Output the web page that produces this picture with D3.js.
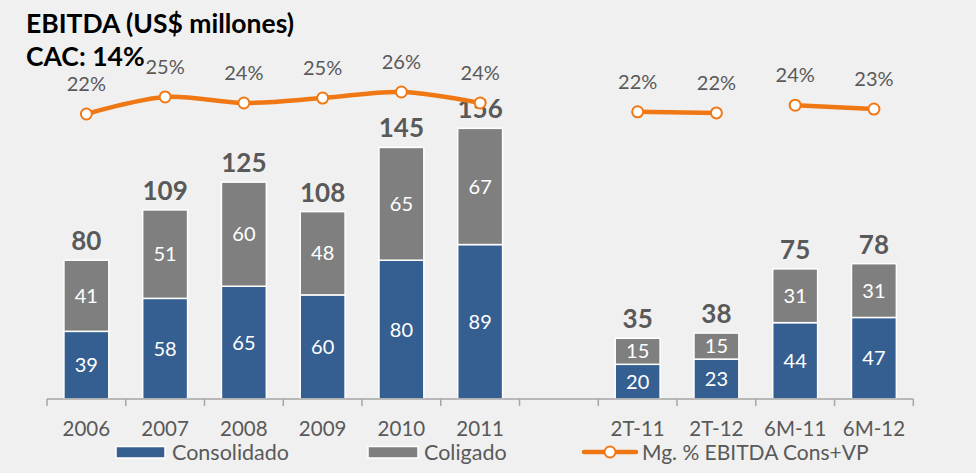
<!DOCTYPE html>
<html><head><meta charset="utf-8">
<script src="https://cdn.jsdelivr.net/npm/d3@7/dist/d3.min.js"></script>
<style>
html,body{margin:0;padding:0;background:#f0f0f0;}
svg{display:block;font-family:Lato,"Open Sans",sans-serif;}
</style></head>
<body><svg id="c" width="976" height="473"></svg>
<script>
const categories = ["2006","2007","2008","2009","2010","2011","gap","2T-11","2T-12","6M-11","6M-12"];
const tickLabels = ["2006","2007","2008","2009","2010","2011","","2T-11","2T-12","6M-11","6M-12"];
const consolidado = [39,58,65,60,80,89,null,20,23,44,47];
const coligado    = [41,51,60,48,65,67,null,15,15,31,31];
const totals      = [80,109,125,108,145,156,null,35,38,75,78];
const margin      = [22.0,25.1,24.0,24.9,26.0,24.0,null,22.4,22.2,23.6,22.9];
const marginLabels= ["22%","25%","24%","25%","26%","24%","","22%","22%","24%","23%"];
const lineGroup   = [1,1,1,1,1,1,0,2,2,3,3];
const seriesNames = ["Consolidado","Coligado","Mg. % EBITDA Cons+VP"];
const title1 = "EBITDA (US$ millones)";
const title2 = "CAC: 14%";

const C_BLUE="#365f91", C_GRAY="#7f7f7f", C_ORANGE="#f07814", C_TXT="#595959";
const svg=d3.select("#c");
const x=d3.scaleBand().domain(categories).range([47,913.3]).paddingInner(0.43).paddingOuter(0.215);
const y=d3.scaleLinear().domain([0,160]).range([399,399-160*1.735]);
const yp=d3.scaleLinear().domain([22,26]).range([114,92]);

// title
svg.append("text").attr("x",26).attr("y",33).attr("font-size",26.5).attr("font-weight",700).attr("fill","#000").text(title1);
svg.append("text").attr("x",26).attr("y",65.5).attr("font-size",26.5).attr("font-weight",700).attr("fill","#000").text(title2);

// bars
const idx=d3.range(categories.length).filter(i=>consolidado[i]!=null);
const g=svg.append("g");
idx.forEach(i=>{
  const cx=x(categories[i]), w=x.bandwidth();
  g.append("rect").attr("x",cx).attr("width",w).attr("y",y(consolidado[i])).attr("height",y(0)-y(consolidado[i]))
    .attr("fill",C_BLUE).attr("stroke","#fff").attr("stroke-width",1.5);
  g.append("rect").attr("x",cx).attr("width",w).attr("y",y(consolidado[i]+coligado[i])).attr("height",y(consolidado[i])-y(consolidado[i]+coligado[i]))
    .attr("fill",C_GRAY).attr("stroke","#fff").attr("stroke-width",1.5);
  g.append("text").attr("x",cx+w/2).attr("y",(y(0)+y(consolidado[i]))/2).attr("dy","0.36em")
    .attr("text-anchor","middle").attr("font-size",20).attr("fill","#fff").text(consolidado[i]);
  g.append("text").attr("x",cx+w/2).attr("y",(y(consolidado[i])+y(consolidado[i]+coligado[i]))/2).attr("dy","0.36em")
    .attr("text-anchor","middle").attr("font-size",20).attr("fill","#fff").text(coligado[i]);
  g.append("text").attr("x",cx+w/2).attr("y",y(totals[i])-10)
    .attr("text-anchor","middle").attr("font-size",26).attr("font-weight",700).attr("fill",C_TXT).text(totals[i]);
});

// axis
const step=x.step();
const axisG=svg.append("g").attr("transform","translate(0,399)");
axisG.append("line").attr("x1",47).attr("x2",913.3).attr("stroke","#a6a6a6").attr("stroke-width",1.5);
d3.range(categories.length+1).forEach(k=>{
  const xx=47+k*step;
  axisG.append("line").attr("x1",xx).attr("x2",xx).attr("y1",0).attr("y2",7).attr("stroke","#a6a6a6").attr("stroke-width",1.5);
});
categories.forEach((c,i)=>{
  axisG.append("text").attr("x",x(c)+x.bandwidth()/2).attr("y",36.5).attr("text-anchor","middle")
    .attr("font-size",20.5).attr("fill",C_TXT).text(tickLabels[i]);
});

// line
const pts=d3.range(categories.length).filter(i=>margin[i]!=null).map(i=>({i,x:x(categories[i])+x.bandwidth()/2,y:yp(margin[i]),grp:lineGroup[i]}));
const groups=d3.groups(pts,d=>d.grp);
const line=d3.line().x(d=>d.x).y(d=>d.y).curve(d3.curveCatmullRom.alpha(0.5));
groups.forEach(([k,arr])=>{
  svg.append("path").attr("d",line(arr)).attr("fill","none").attr("stroke",C_ORANGE).attr("stroke-width",4.5).attr("stroke-linecap","round");
});
pts.forEach(p=>{
  svg.append("circle").attr("cx",p.x).attr("cy",p.y).attr("r",5.5).attr("fill","#fff").attr("stroke",C_ORANGE).attr("stroke-width",2);
  svg.append("text").attr("x",p.x).attr("y",p.y-23).attr("text-anchor","middle").attr("font-size",20).attr("fill",C_TXT).text(marginLabels[p.i]);
});

// legend
const lg=svg.append("g");
lg.append("rect").attr("x",116).attr("y",446.5).attr("width",49).attr("height",11.5).attr("fill",C_BLUE).attr("stroke","#fff").attr("stroke-width",1.5);
lg.append("text").attr("x",172).attr("y",459.5).attr("font-size",21.5).attr("fill",C_TXT).text(seriesNames[0]);
lg.append("rect").attr("x",368).attr("y",446.5).attr("width",50).attr("height",11.5).attr("fill",C_GRAY).attr("stroke","#fff").attr("stroke-width",1.5);
lg.append("text").attr("x",424).attr("y",459.5).attr("font-size",21.5).attr("fill",C_TXT).text(seriesNames[1]);
lg.append("line").attr("x1",584).attr("x2",636).attr("y1",452).attr("y2",452).attr("stroke",C_ORANGE).attr("stroke-width",4.5).attr("stroke-linecap","round");
lg.append("circle").attr("cx",610).attr("cy",452).attr("r",5.5).attr("fill","#fff").attr("stroke",C_ORANGE).attr("stroke-width",2);
lg.append("text").attr("x",642).attr("y",459.5).attr("font-size",21).attr("fill",C_TXT).text(seriesNames[2]);
</script></body></html>
